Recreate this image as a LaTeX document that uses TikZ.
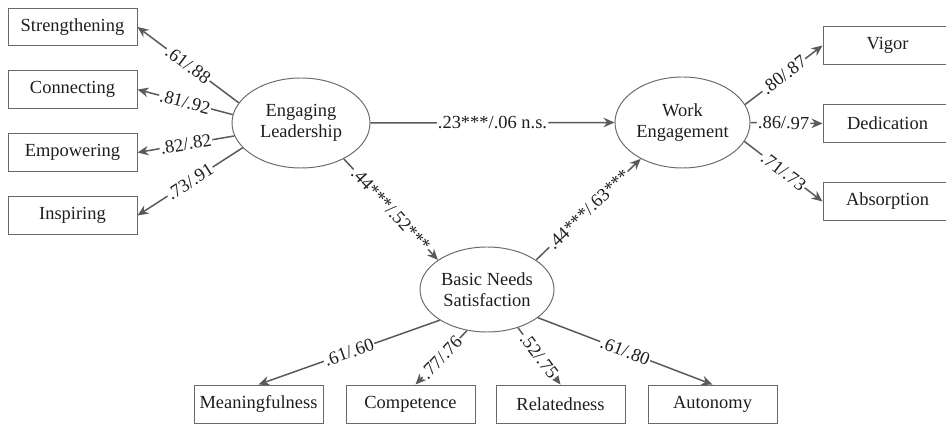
\documentclass[tikz,border=0pt]{standalone}
\usepackage{fontspec}
\setmainfont{Liberation Serif}
\usetikzlibrary{arrows.meta,shapes.geometric}
\definecolor{linegray}{RGB}{90,90,90}
\definecolor{boxgray}{RGB}{105,105,105}
\definecolor{textdark}{RGB}{30,30,30}

\begin{document}
\begin{tikzpicture}[
    indicator/.style={rectangle, draw=boxgray, line width=0.55pt, minimum width=2.58cm, minimum height=0.75cm, inner sep=0pt, text=textdark, font=\fontsize{10.5}{12}\selectfont},
    latent/.style={ellipse, draw=boxgray, line width=0.55pt, inner sep=0pt, align=center, text=textdark, font=\fontsize{10.5}{12}\selectfont},
    link/.style={draw=linegray, line width=0.85pt, -{Stealth[length=2.2mm,width=1.9mm]}},
    coef/.style={fill=white, inner sep=0.6pt, sloped, text=textdark, font=\fontsize{10.5}{12}\selectfont}
]
\useasboundingbox (0,0) rectangle (18.92,8.52);

% Latent factors
\node[latent, minimum width=2.76cm, minimum height=1.8cm] (lead) at (6.02, 6.06) {Engaging\\Leadership};
\node[latent, minimum width=2.7cm, minimum height=1.82cm] (work) at (13.65, 6.07) {Work\\Engagement};
\node[latent, minimum width=2.68cm, minimum height=1.7cm] (needs) at (9.74, 2.73) {Basic Needs\\Satisfaction};

% Indicators of leadership
\node[indicator] (str) at (1.45, 7.98) {Strengthening};
\node[indicator] (con) at (1.45, 6.73) {Connecting};
\node[indicator] (emp) at (1.45, 5.47) {Empowering};
\node[indicator] (ins) at (1.45, 4.21) {Inspiring};

% Indicators of engagement
\node[indicator] (vig) at (17.75, 7.61) {Vigor};
\node[indicator] (ded) at (17.75, 6.05) {Dedication};
\node[indicator] (abs) at (17.75, 4.49) {Absorption};

% Indicators of needs
\node[indicator, minimum height=0.76cm] (mea) at (5.17, 0.44) {Meaningfulness};
\node[indicator, minimum height=0.76cm] (com) at (8.21, 0.44) {Competence};
\node[indicator, minimum height=0.76cm] (rel) at (11.21, 0.44) {Relatedness};
\node[indicator, minimum height=0.76cm] (aut) at (14.25, 0.44) {Autonomy};

% Loadings
\draw[link] (lead.162) -- node[coef] {.61/.88} (str.east);
\draw[link] (lead.173) -- node[coef] {.81/.92} (con.east);
\draw[link] (lead.191) -- node[coef] {.82/.82} (emp.east);
\draw[link] (lead.203) -- node[coef] {.73/.91} (ins.east);

\draw[link] (work.16) -- node[coef] {.80/.87} (vig.west);
\draw[link] (work.0) -- node[coef, pos=0.46] {.86/.97} (ded.west);
\draw[link] (work.-17) -- node[coef] {.71/.73} (abs.west);

\draw[link] (needs.213) -- node[coef] {.61/.60} (mea.north);
\draw[link] (needs.244) -- node[coef] {.77/.76} ([xshift=0.1cm]com.north);
\draw[link] (needs.309) -- node[coef] {.52/.75} (rel.north);
\draw[link] (needs.331) -- node[coef] {.61/.80} (aut.north);

% Structural paths
\draw[link] (lead.east) -- node[coef] {.23***/.06 n.s.} (work.west);
\draw[link] (lead.320) -- node[coef] {.44***/.52***} (needs.149);
\draw[link] (needs.31) -- node[coef] {.44***/.63***} (work.221);

\end{tikzpicture}
\end{document}
